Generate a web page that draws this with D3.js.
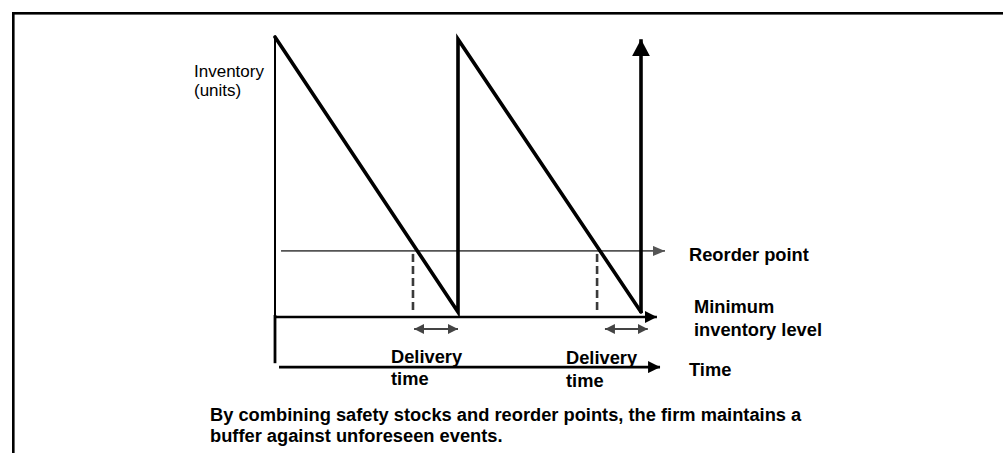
<!DOCTYPE html>
<html>
<head>
<meta charset="utf-8">
<script src="https://cdn.jsdelivr.net/npm/d3@7"></script>
<style>
  html, body { margin: 0; padding: 0; background: #fff; }
  svg { display: block; }
  text { font-family: "Liberation Sans", Arial, Helvetica, sans-serif; fill: #000; }
</style>
</head>
<body>
<svg id="chart" width="1003" height="453"></svg>
<script>
// ---- data (time in order cycles, inventory in units) ----
const sawTimes    = [0, 1, 1, 2, 2];          // corners of the sawtooth
const sawLevels   = [100, 1.8, 99.2, 1.8];     // levels at those corners (last leg is the arrow)
const arrowTop    = 99.2;                      // final replenishment arrow tip
const reorderLevel = 23.6;
const reorderLine  = [0.033, 2.131];           // reorder point line start / end
const reorderTimes = [0.754, 1.76];            // dashed drops from the reorder point
const deliveryWindows = [[0.76, 1.0], [1.803, 2.037]];
const minLevel     = 0;
const minLine      = [0, 2.087];
const timeAxisLevel = -17.9;
const timeAxisLine  = [0.022, 2.104];
const axisTop       = 100;
const axisBottom    = -16.5;

const yLabelLines    = ["Inventory", "(units)"];
const reorderLabel   = "Reorder point";
const minLabelLines  = ["Minimum", "inventory level"];
const timeLabel      = "Time";
const deliveryLines  = ["Delivery", "time"];
const captionLines   = ["By combining safety stocks and reorder points, the firm maintains a",
                        "buffer against unforeseen events."];

// ---- scales ----
const x = d3.scaleLinear().domain([0, 2]).range([275, 641]);
const y = d3.scaleLinear().domain([0, 100]).range([317, 37]);

const svg = d3.select("#chart");

// frame
svg.append("rect")
  .attr("x", 13.3).attr("y", 13.3).attr("width", 1100).attr("height", 600)
  .attr("fill", "none").attr("stroke", "#000").attr("stroke-width", 2.6);

// arrow markers
const defs = svg.append("defs");
function marker(id, color, len, half, reverse) {
  defs.append("marker")
    .attr("id", id)
    .attr("markerUnits", "userSpaceOnUse")
    .attr("viewBox", `0 ${-half} ${len} ${2*half}`)
    .attr("refX", reverse ? 0 : len).attr("refY", 0)
    .attr("markerWidth", len).attr("markerHeight", 2*half)
    .attr("orient", "auto")
    .append("path")
    .attr("d", reverse ? `M${len},${-half}L0,0L${len},${half}Z` : `M0,${-half}L${len},0L0,${half}Z`)
    .attr("fill", color);
}
marker("aBig", "#000", 17, 9, false);
marker("aBlack", "#000", 12, 6, false);
marker("aGray", "#555", 12, 5, false);
marker("aDel", "#444", 10, 5, false);
marker("aDelR", "#444", 10, 5, true);

// vertical inventory axis
svg.append("line")
  .attr("x1", x(0)).attr("x2", x(0))
  .attr("y1", y(axisTop)).attr("y2", y(minLevel))
  .attr("stroke", "#000").attr("stroke-width", 2);
svg.append("line")
  .attr("x1", x(0)).attr("x2", x(0))
  .attr("y1", y(minLevel) - 2).attr("y2", y(axisBottom))
  .attr("stroke", "#000").attr("stroke-width", 2.8);

// reorder point line
svg.append("line")
  .attr("x1", x(reorderLine[0])).attr("x2", x(reorderLine[1]))
  .attr("y1", y(reorderLevel)).attr("y2", y(reorderLevel))
  .attr("stroke", "#555").attr("stroke-width", 1.6)
  .attr("marker-end", "url(#aGray)");

// dashed drops
svg.selectAll(".drop").data(reorderTimes).enter().append("line")
  .attr("class", "drop")
  .attr("x1", d => x(d)).attr("x2", d => x(d))
  .attr("y1", y(reorderLevel) + 3).attr("y2", y(sawLevels[1]))
  .attr("stroke", "#3a3a3a").attr("stroke-width", 2.6)
  .attr("stroke-dasharray", "8,4");

// minimum inventory level line
svg.append("line")
  .attr("x1", x(minLine[0])).attr("x2", x(minLine[1]))
  .attr("y1", y(minLevel)).attr("y2", y(minLevel))
  .attr("stroke", "#000").attr("stroke-width", 2.5)
  .attr("marker-end", "url(#aBlack)");

// time axis
svg.append("line")
  .attr("x1", x(timeAxisLine[0])).attr("x2", x(timeAxisLine[1]))
  .attr("y1", y(timeAxisLevel)).attr("y2", y(timeAxisLevel))
  .attr("stroke", "#000").attr("stroke-width", 2.8)
  .attr("marker-end", "url(#aBlack)");

// sawtooth
const sawPts = sawLevels.map((v, i) => [sawTimes[i], v]);
svg.append("path")
  .attr("d", d3.line().x(d => x(d[0])).y(d => y(d[1]))(sawPts))
  .attr("fill", "none").attr("stroke", "#000").attr("stroke-width", 3.6)
  .attr("stroke-linejoin", "miter").attr("stroke-linecap", "round");
svg.append("line")
  .attr("x1", x(sawTimes[4])).attr("x2", x(sawTimes[4]))
  .attr("y1", y(sawLevels[3]) + 1).attr("y2", y(arrowTop))
  .attr("stroke", "#000").attr("stroke-width", 3.6)
  .attr("marker-end", "url(#aBig)");

// delivery-time double arrows
svg.selectAll(".del").data(deliveryWindows).enter().append("line")
  .attr("class", "del")
  .attr("x1", d => x(d[0])).attr("x2", d => x(d[1]))
  .attr("y1", 329).attr("y2", 329)
  .attr("stroke", "#444").attr("stroke-width", 2)
  .attr("marker-start", "url(#aDelR)")
  .attr("marker-end", "url(#aDel)");

// labels
const yl = svg.append("text").attr("x", 194).attr("y", 77).style("font-size", "17px");
yl.append("tspan").attr("x", 194).attr("y", 77).text(yLabelLines[0]);
yl.append("tspan").attr("x", 194).attr("y", 96).text(yLabelLines[1]);

const bold = s => s.style("font-size", "18.3px").style("font-weight", "bold");

bold(svg.append("text").attr("x", 689).attr("y", 261).text(reorderLabel));
bold(svg.append("text").attr("x", 694).attr("y", 313).text(minLabelLines[0]));
bold(svg.append("text").attr("x", 694).attr("y", 336).text(minLabelLines[1]));
bold(svg.append("text").attr("x", 689).attr("y", 376).text(timeLabel));

const delPos = [[391, 363, 385], [566, 364, 387]];
delPos.forEach(p => {
  bold(svg.append("text").attr("x", p[0]).attr("y", p[1]).text(deliveryLines[0]));
  bold(svg.append("text").attr("x", p[0]).attr("y", p[2]).text(deliveryLines[1]));
});

bold(svg.append("text").attr("x", 210).attr("y", 421).text(captionLines[0]));
bold(svg.append("text").attr("x", 210).attr("y", 442).text(captionLines[1]));
</script>
</body>
</html>
